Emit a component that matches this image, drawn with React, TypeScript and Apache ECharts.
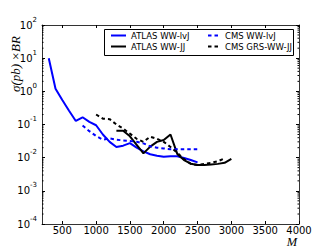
import React, { useEffect, useRef } from "react";
import * as echarts from "echarts";

// X tick labels (resonance mass M)
const massTicks = [500, 1000, 1500, 2000, 2500, 3000, 3500, 4000];

// ATLAS WW-lvJ (blue solid)
const atlasLvjMass = [300, 400, 500, 600, 700, 800, 900, 1000, 1100, 1200, 1300, 1400, 1500, 1600, 1700, 1800, 1900, 2000, 2100, 2200, 2300, 2400, 2500];
const atlasLvjXsec = [10, 1.2, 0.55, 0.26, 0.128, 0.165, 0.12, 0.095, 0.05, 0.03, 0.021, 0.023, 0.0275, 0.02, 0.0155, 0.0127, 0.0115, 0.0106, 0.011, 0.011, 0.0098, 0.0085, 0.0072];

// ATLAS WW-JJ (black solid)
const atlasJjMass = [1300, 1400, 1500, 1600, 1700, 1800, 1900, 2000, 2100, 2200, 2300, 2400, 2500, 2600, 2700, 2800, 2900, 3000];
const atlasJjXsec = [0.065, 0.065, 0.044, 0.0245, 0.0135, 0.0215, 0.03, 0.034, 0.05, 0.013, 0.0085, 0.0066, 0.006, 0.006, 0.0062, 0.0065, 0.007, 0.0092];

// CMS WW-lvJ (blue dashed)
const cmsLvjMass = [800, 900, 1000, 1100, 1200, 1300, 1400, 1500, 1600, 1700, 1800, 1900, 2000, 2100, 2200, 2300, 2400, 2500];
const cmsLvjXsec = [0.093, 0.063, 0.045, 0.035, 0.038, 0.035, 0.033, 0.032, 0.03, 0.027, 0.022, 0.02, 0.019, 0.018, 0.018, 0.018, 0.018, 0.018];

// CMS GRS-WW-JJ (black dashed)
const cmsJjMass = [1000, 1100, 1200, 1300, 1400, 1500, 1600, 1700, 1800, 1900, 2000, 2100, 2200, 2300, 2400, 2500, 2600, 2700, 2800, 2900];
const cmsJjXsec = [0.2, 0.15, 0.145, 0.1, 0.075, 0.053, 0.037, 0.03, 0.043, 0.037, 0.03, 0.021, 0.014, 0.009, 0.0065, 0.006, 0.0065, 0.007, 0.0078, 0.0095];

// Minor tick positions on the log y axis
const minorTickValues: number[] = [];
for (let d = -4; d < 2; d++) {
  for (let k = 2; k < 10; k++) minorTickValues.push(k * Math.pow(10, d));
}

const pairs = (xs: number[], ys: number[]) => xs.map((x, i) => [x, ys[i]]);

const FONT = "DejaVu Sans";

export default function App() {
  const ref = useRef<HTMLDivElement>(null);
  useEffect(() => {
    if (!ref.current) return;
    const chart = echarts.init(ref.current, undefined, { renderer: "svg" });
    const axisLineStyle = { color: "#333", width: 1 };
    const legendCommon = {
      orient: "vertical",
      top: 31,
      padding: 0,
      itemHeight: 10,
      itemGap: 2,
      selectedMode: false,
      itemStyle: { opacity: 0, borderWidth: 0 },
      textStyle: { fontSize: 8.5, fontFamily: FONT, color: "#000" },
      z: 5,
    };
    const option: any = {
      animation: false,
      backgroundColor: "#fff",
      grid: { left: 42, right: 33, top: 25, bottom: 25, containLabel: false, outerBoundsMode: "none" },
      legend: [
        { ...legendCommon, data: ["ATLAS WW-lvJ", "ATLAS WW-JJ"], left: 110, itemWidth: 15 },
        { ...legendCommon, data: ["CMS WW-lvJ", "CMS GRS-WW-JJ"], left: 207, itemWidth: 12 },
      ],
      xAxis: [
        {
          type: "value",
          min: 200,
          max: 4000,
          position: "bottom",
          axisLine: { show: true, onZero: false, lineStyle: axisLineStyle },
          axisTick: { show: true, inside: true, length: 3, customValues: massTicks, lineStyle: { color: "#000" } },
          axisLabel: {
            show: true,
            customValues: massTicks,
            formatter: (v: number) => String(v),
            margin: 1,
            lineHeight: 11,
            fontSize: 10,
            fontFamily: FONT,
            color: "#000",
          },
          splitLine: { show: false },
        },
        {
          type: "value",
          min: 200,
          max: 4000,
          position: "top",
          axisLine: { show: true, onZero: false, lineStyle: axisLineStyle },
          axisTick: { show: true, inside: true, length: 3, customValues: massTicks, lineStyle: { color: "#000" } },
          axisLabel: { show: false },
          splitLine: { show: false },
        },
      ],
      yAxis: [
        {
          type: "log",
          logBase: 10,
          min: 1e-4,
          max: 100,
          position: "left",
          axisLine: { show: true, onZero: false, lineStyle: axisLineStyle },
          axisTick: { show: true, inside: true, length: 3, lineStyle: { color: "#000" } },
          axisLabel: {
            margin: 5,
            formatter: (v: number) => `{b|10}{e|${Math.round(Math.log10(v))}}`,
            rich: {
              b: { fontSize: 10, fontFamily: FONT, color: "#000", lineHeight: 18 },
              e: { fontSize: 7, fontFamily: FONT, color: "#000", verticalAlign: "top" },
            },
          },
          splitLine: { show: false },
          minorTick: { show: false },
        },
        {
          type: "log",
          logBase: 10,
          min: 1e-4,
          max: 100,
          position: "right",
          axisLine: { show: true, onZero: false, lineStyle: axisLineStyle },
          axisTick: { show: true, inside: true, length: 3, lineStyle: { color: "#000" } },
          axisLabel: { show: false },
          splitLine: { show: false },
        },
      ],
      graphic: [
        {
          type: "rect",
          shape: { x: 104.5, y: 29.5, width: 189, height: 26 },
          style: { fill: "#fff", stroke: "#000", lineWidth: 1 },
          z: 4,
        },
        {
          type: "text",
          x: 15,
          y: 64,
          rotation: Math.PI / 2,
          style: {
            text: "σ(pb) ×BR",
            fontSize: 13,
            fontStyle: "italic",
            fontFamily: "Liberation Serif",
            fill: "#000",
            align: "center",
            verticalAlign: "middle",
          },
        },
        {
          type: "text",
          x: 292,
          y: 242,
          style: {
            text: "M",
            fontSize: 12.5,
            fontStyle: "italic",
            fontFamily: "Liberation Serif",
            fill: "#000",
            align: "center",
            verticalAlign: "middle",
          },
        },
      ],
      series: [
        {
          name: "ATLAS WW-lvJ",
          type: "line",
          data: pairs(atlasLvjMass, atlasLvjXsec),
          symbol: "none",
          showSymbol: false,
          lineStyle: { color: "#0000ff", width: 2, type: "solid" },
          itemStyle: { color: "#0000ff" },
        },
        {
          name: "ATLAS WW-JJ",
          type: "line",
          data: pairs(atlasJjMass, atlasJjXsec),
          symbol: "none",
          showSymbol: false,
          lineStyle: { color: "#000000", width: 2, type: "solid" },
          itemStyle: { color: "#000000" },
        },
        {
          name: "CMS WW-lvJ",
          type: "line",
          data: pairs(cmsLvjMass, cmsLvjXsec),
          symbol: "none",
          showSymbol: false,
          lineStyle: { color: "#0000ff", width: 2, type: [3.5, 3] },
          itemStyle: { color: "#0000ff" },
        },
        {
          name: "CMS GRS-WW-JJ",
          type: "line",
          data: pairs(cmsJjMass, cmsJjXsec),
          symbol: "none",
          showSymbol: false,
          lineStyle: { color: "#000000", width: 2, type: [3.5, 3] },
          itemStyle: { color: "#000000" },
        },
        {
          type: "custom",
          silent: true,
          clip: false,
          data: minorTickValues.map((v) => [200, v]),
          encode: { x: 0, y: 1 },
          renderItem: (params: any, api: any) => {
            const cs = params.coordSys;
            const y = api.coord([api.value(0), api.value(1)])[1];
            const st = { stroke: "#000", lineWidth: 1 };
            return {
              type: "group",
              children: [
                { type: "line", shape: { x1: cs.x, y1: y, x2: cs.x + 1.5, y2: y }, style: st },
                { type: "line", shape: { x1: cs.x + cs.width - 1.5, y1: y, x2: cs.x + cs.width, y2: y }, style: st },
              ],
            };
          },
        },
      ],
    };
    chart.setOption(option);
    return () => chart.dispose();
  }, []);
  return (
    <div
      ref={ref}
      style={{ position: "absolute", left: 0, top: 0, width: 332, height: 249 }}
    />
  );
}
